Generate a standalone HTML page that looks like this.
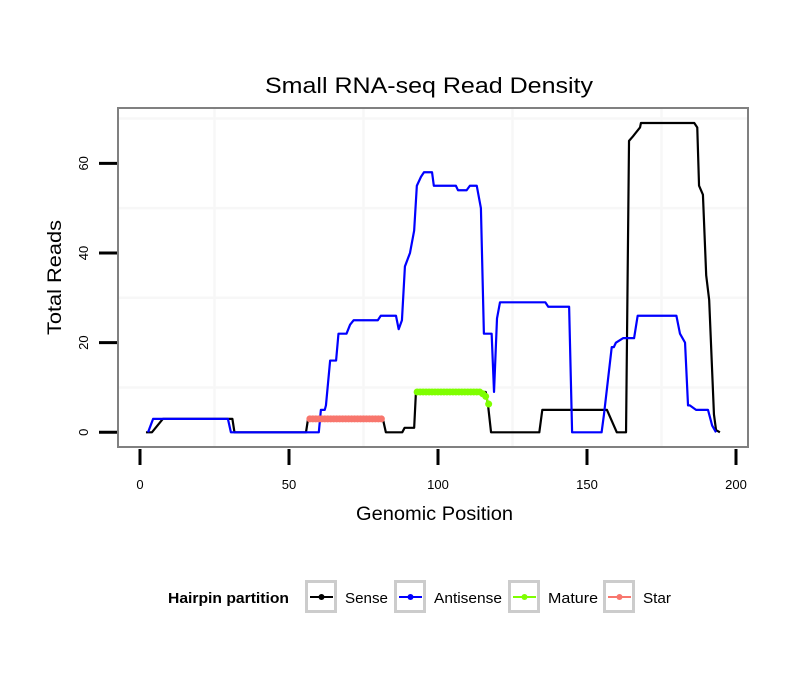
<!DOCTYPE html>
<html><head><meta charset="utf-8"><style>body{margin:0;background:#fff}svg{display:block;font-family:"Liberation Sans",sans-serif}</style></head>
<body>
<svg id="chart" width="810" height="690" xmlns="http://www.w3.org/2000/svg">
<rect width="810" height="690" fill="#fff"/>
<text x="265" y="93" font-size="22" textLength="328" lengthAdjust="spacingAndGlyphs">Small RNA-seq Read Density</text>
<g id="grid"></g>
<g id="series"></g>
<rect x="118" y="108" width="630" height="339" fill="none" stroke="#808080" stroke-width="2"/>
<g id="axes"></g>
<text x="356" y="520" font-size="19" textLength="157" lengthAdjust="spacingAndGlyphs">Genomic Position</text>
<text transform="translate(61,335) rotate(-90)" font-size="19" textLength="115" lengthAdjust="spacingAndGlyphs">Total Reads</text>
<g>
<text x="168" y="603" font-size="15" font-weight="bold" textLength="121" lengthAdjust="spacingAndGlyphs">Hairpin partition</text>
<g id="legend"></g>
</g>
</svg>
<script>
const xTicks=[0,50,100,150,200];
const yTicks=[0,20,40,60];
const xGrid=[25,75,125,175];
const yGrid=[10,30,50,70];
const senseX=[2,3.4,4,7.7,31,31.7,55.7,56.4,81.5,82.5,88,88.8,92,92.6,116,116.8,117.8,134,135,156.7,160,163.1,164.1,165.4,167.8,168.1,186,187,187.6,188.9,190,191,192.6,193.3,194.6];
const senseY=[0,0,0,3,3,0,0,3,3,0,0,1,1,9,9,6,0,0,5,5,0,0,65,66,68,69,69,68,55,53,35,29.5,4,0.5,0];
const antiX=[2.7,4.4,29.5,30.5,60,60.7,62,62.4,63.8,65.8,66.6,69.3,70.5,71.7,79.8,80.8,85.9,86.8,87.9,88.9,90.6,92,92.9,94.3,95.3,98,98.6,106,106.7,109.6,110.7,113,114.4,115.4,118,118.8,119.8,120.8,136,137,144,145,154.9,155.7,158.3,159,159.7,162.1,165.8,167,180,181.2,182.9,183.9,184.5,186.6,190.6,192,193.3];
const antiY=[0,3,3,0,0,5,5,6,16,16,22,22,24,25,25,26,26,23,25,37,40,45,55,57,58,58,55,55,54,54,55,55,50,22,22,9,25.4,29,29,28,28,0,0,4,19,19,20,21,21,26,26,22,20,6,6,5,5,1.5,0];
const matureX=[93,94,95,96,97,98,99,100,101,102,103,104,105,106,107,108,109,110,111,112,113,114,115,116,117];
const matureY=[9,9,9,9,9,9,9,9,9,9,9,9,9,9,9,9,9,9,9,9,9,9,8.6,8,6.3];
const starX=[57,58,59,60,61,62,63,64,65,66,67,68,69,70,71,72,73,74,75,76,77,78,79,80,81];
const starY=[3,3,3,3,3,3,3,3,3,3,3,3,3,3,3,3,3,3,3,3,3,3,3,3,3];
const legendLabels=['Sense','Antisense','Mature','Star'];
const legendColors=['#000000','#0000ff','#7fff00','#f8766d'];
const legendWidths=[43,68,50,28];

const NS='http://www.w3.org/2000/svg';
const sx=d=>140+2.98*d;
const sy=v=>432.3-4.483*v;
function mk(tag,attrs,parent){const e=document.createElementNS(NS,tag);for(const k in attrs)e.setAttribute(k,attrs[k]);parent.appendChild(e);return e;}
const grid=document.getElementById('grid'),series=document.getElementById('series'),axes=document.getElementById('axes'),legend=document.getElementById('legend');
xGrid.forEach(d=>{const l=mk('line',{x1:sx(d),x2:sx(d),y1:108,y2:447,stroke:'#f7f7f7','stroke-width':2.5},grid);

});
yGrid.forEach(v=>{const l=mk('line',{x1:118,x2:748,y1:sy(v),y2:sy(v),stroke:'#f7f7f7','stroke-width':2.5},grid);

});
xTicks.forEach(d=>{const t=mk('line',{x1:sx(d),x2:sx(d),y1:449,y2:465,stroke:'#000','stroke-width':3},axes);


const s=mk('text',{x:sx(d),y:489,'font-size':13,'text-anchor':'middle'},axes);s.textContent=d;

});
yTicks.forEach(v=>{const t=mk('line',{x1:99,x2:117,y1:sy(v),y2:sy(v),stroke:'#000','stroke-width':3},axes);


const s=mk('text',{transform:`translate(88,${sy(v)}) rotate(-90)`,'font-size':13,'text-anchor':'middle'},axes);s.textContent=v;

});
function line(xs,ys,color,name){const p=mk('polyline',{points:xs.map((d,i)=>sx(d)+','+sy(ys[i])).join(' '),fill:'none',stroke:color,'stroke-width':2.2,'stroke-linejoin':'round'},series);

}
function dots(xs,ys,color,name){line(xs,ys,color,name+'-line');xs.forEach((d,i)=>{const c=mk('circle',{cx:sx(d),cy:sy(ys[i]),r:3.5,fill:color},series);

});}
line(senseX,senseY,'#000','sense-line');
line(antiX,antiY,'#0000ff','antisense-line');
dots(matureX,matureY,'#7fff00','mature');
dots(starX,starY,'#f8766d','star');
const boxX=[305,394,508,603];
legendLabels.forEach((lab,i)=>{const g=mk('g',{},legend);


const bx=boxX[i];
mk('rect',{x:bx+1.5,y:581.5,width:29,height:30,fill:'#fff',stroke:'#cccccc','stroke-width':3},g);
mk('line',{x1:bx+5,x2:bx+28,y1:597,y2:597,stroke:legendColors[i],'stroke-width':2},g);
mk('circle',{cx:bx+16.5,cy:597,r:3,fill:legendColors[i]},g);
const t=mk('text',{x:bx+40,y:603,'font-size':15,textLength:legendWidths[i],lengthAdjust:'spacingAndGlyphs'},g);t.textContent=lab;});
</script>
</body></html>
